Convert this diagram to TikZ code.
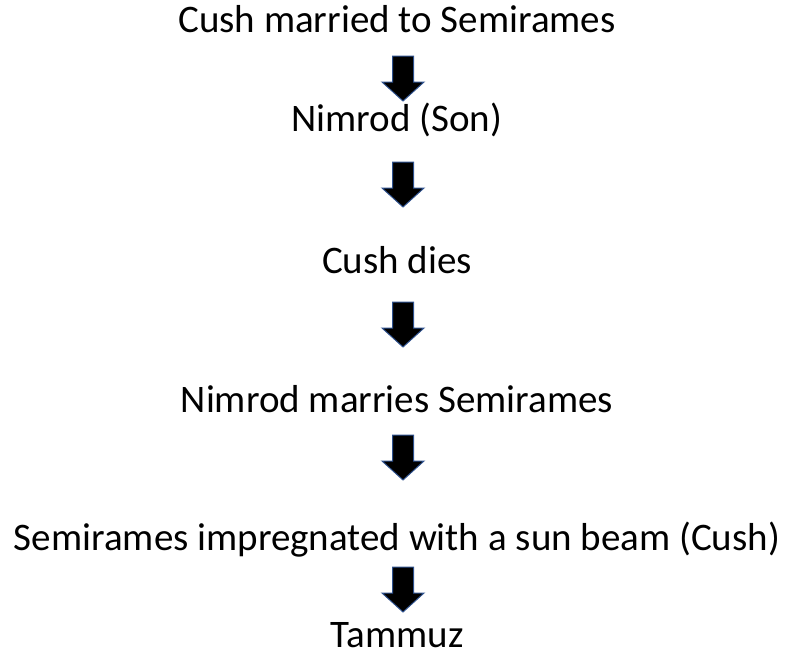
\documentclass[tikz,border=0pt]{standalone}
\usepackage{fontspec}
\setmainfont{Carlito}
\definecolor{arrowline}{HTML}{2F528F}
\tikzset{
  steptext/.style={anchor=base,inner sep=0pt,font=\fontsize{39}{47}\selectfont},
  blockarrow/.pic={
    \draw[arrowline,fill=black,line width=1pt,line join=miter]
      (-10.5,0) -- (10.5,0) -- (10.5,26) -- (21,26) -- (0,45)
      -- (-21,26) -- (-10.5,26) -- cycle;
  }
}
\begin{document}
\begin{tikzpicture}[x=1pt,y=-1pt]
\useasboundingbox (0,0) rectangle (785,654);
% the steps
\node[steptext] (cush) at (397,32) {Cush married to Semirames};
\node[steptext] (nimrod) at (397,131) {Nimrod (Son)};
\node[steptext] (dies) at (397,273) {Cush dies};
\node[steptext] (marries) at (397,412) {Nimrod marries Semirames};
\node[steptext] (beam) at (397,550) {Semirames impregnated with a sun beam (Cush)};
\node[steptext] (tammuz) at (397,647) {Tammuz};
% the arrows
\foreach \y in {56,162,302,435,567}
  \pic at (403,\y) {blockarrow};
\end{tikzpicture}
\end{document}
